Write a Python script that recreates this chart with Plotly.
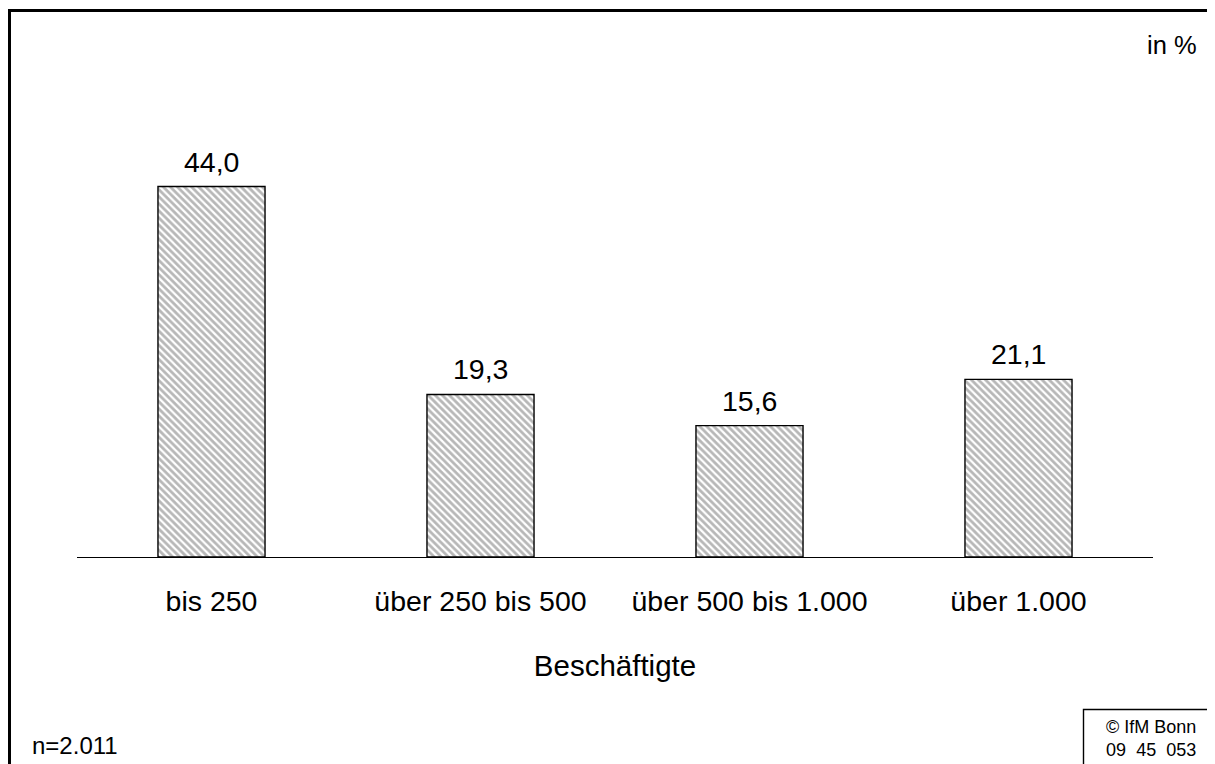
import plotly.graph_objects as go

categories = ["bis 250", "über 250 bis 500", "über 500 bis 1.000", "über 1.000"]
values = [44.0, 19.3, 15.6, 21.1]
axis_title = "Beschäftigte"
unit_label = "in %"
sample_note = "n=2.011"
source_note = "© IfM Bonn<br>09  45  053"

# The page body has an 8px margin, so the figure starts at (8, 8) on screen.
OFF = 8
W, H = 1215 - OFF, 764 - OFF
L, R, T, B = 69, 62, 128, 207
PW, PH = W - L - R, H - T - B
FONT = "Liberation Sans, Arial, sans-serif"


def px(x):
    """screen x -> paper x"""
    return (x - OFF - L) / PW


def py(y):
    """screen y -> paper y"""
    return (H - B - (y - OFF)) / PH


fig = go.Figure()
fig.add_trace(go.Bar(
    x=categories,
    y=values,
    marker=dict(
        color="white",
        line=dict(color="black", width=1.4),
        pattern=dict(shape="\\", fgcolor="#707070", bgcolor="white", size=5, solidity=0.55),
    ),
    hoverinfo="skip",
))

for c, v in zip(categories, values):
    fig.add_annotation(
        x=c, y=v, xref="x", yref="y",
        text=f"{v:.1f}".replace(".", ","),
        showarrow=False, yanchor="middle", yshift=25,
        font=dict(size=28.5, color="black", family=FONT),
    )

# frame lines (top and left)
fig.add_shape(type="line", xref="paper", yref="paper",
              x0=px(8), x1=px(1230), y0=py(10.5), y1=py(10.5),
              line=dict(color="black", width=3))
fig.add_shape(type="line", xref="paper", yref="paper",
              x0=px(9.5), x1=px(9.5), y0=py(9), y1=py(780),
              line=dict(color="black", width=3))
# source box
fig.add_shape(type="rect", xref="paper", yref="paper",
              x0=px(1083.5), x1=px(1240), y0=py(709.5), y1=py(790),
              line=dict(color="black", width=1.4), fillcolor="white")

fig.add_annotation(xref="paper", yref="paper", x=px(1199), y=py(45),
                   text=unit_label, showarrow=False, xanchor="right", yanchor="middle",
                   font=dict(size=25.5, color="black", family=FONT))
fig.add_annotation(xref="paper", yref="paper", x=px(30), y=py(745),
                   text=sample_note, showarrow=False, xanchor="left", yanchor="middle",
                   font=dict(size=24, color="black", family=FONT))
fig.add_annotation(xref="paper", yref="paper", x=px(1150.5), y=py(738),
                   text=source_note, showarrow=False, xanchor="center", yanchor="middle",
                   align="center",
                   font=dict(size=18, color="black", family=FONT))

fig.update_layout(
    width=W, height=H,
    margin=dict(l=L, r=R, t=T, b=B, pad=0),
    paper_bgcolor="white", plot_bgcolor="white",
    showlegend=False,
    bargap=0.602,
    font=dict(family=FONT, color="black", size=28),
    xaxis=dict(
        showline=True, linecolor="black", linewidth=1.4,
        ticks="", showgrid=False, zeroline=False,
        ticklabelstandoff=19,
        tickfont=dict(size=28.5, family=FONT, color="black"),
        title=dict(text=axis_title, standoff=38, font=dict(size=29.5, family=FONT, color="black")),
    ),
    yaxis=dict(
        range=[0, 50], visible=False, showgrid=False, zeroline=False,
    ),
)

fig.write_html("out.html")
